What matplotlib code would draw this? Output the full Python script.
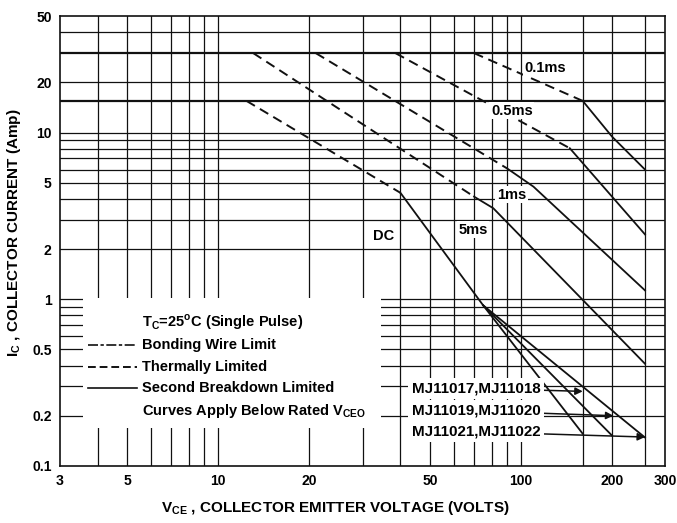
import matplotlib
matplotlib.use('Agg')
import matplotlib.pyplot as plt
from matplotlib import font_manager
from matplotlib.patches import Rectangle
from matplotlib.ticker import NullLocator

# tick labels and grid
x_ticks = [3, 5, 10, 20, 50, 100, 200, 300]
x_grid = [4, 5, 6, 7, 8, 9, 10, 20, 30, 40, 50, 60, 70, 80, 90, 100, 160, 200, 257]
y_ticks = [0.1, 0.2, 0.5, 1, 2, 5, 10, 20, 50]
y_tick_labels = ['0.1', '0.2', '0.5', '1', '2', '5', '10', '20', '50']
y_grid = [0.2, 0.3, 0.4, 0.5, 0.6, 0.7, 0.8, 0.9, 1, 2, 3, 4, 5, 6, 7, 8, 9, 10, 20, 40]
y_current_limits = [15.5, 30]  # continuous / peak collector current

# DC curve
dc_v_th = [12.4, 40]
dc_i_th = [15.5, 4.35]
dc_v_sb = [40, 75, 160]
dc_i_sb = [4.35, 0.92, 0.156]
# DC branches for the higher voltage parts
mj19_v = [75, 200]
mj19_i = [0.92, 0.152]
mj21_v = [75, 257]
mj21_i = [0.92, 0.148]

# pulse curves: thermally limited (dashed) then second breakdown (solid)
p01_v_th = [70, 160]
p01_i_th = [30, 15.5]
p01_v_sb = [160, 200, 257]
p01_i_sb = [15.5, 9.46, 6.0]

p05_v_th = [38.5, 145]
p05_i_th = [30, 8.06]
p05_v_sb = [145, 257]
p05_i_sb = [8.06, 2.45]

p1_v_th = [21, 90]
p1_i_th = [30, 6.1]
p1_v_sb = [90, 110, 257]
p1_i_sb = [6.1, 4.74, 1.13]

p5_v_th = [13.05, 70]
p5_i_th = [30, 4.13]
p5_v_sb = [70, 81, 257]
p5_i_sb = [4.13, 3.52, 0.41]

curve_labels = ['0.1ms', '0.5ms', '1ms', '5ms', 'DC']
curve_label_v = [120, 93.3, 93.1, 69.5, 35.3]
curve_label_i = [24.4, 13.5, 4.23, 2.61, 2.40]

parts = ['MJ11017,MJ11018', 'MJ11019,MJ11020', 'MJ11021,MJ11022']
part_tip_v = [160, 202, 257]
part_tip_i = [0.28, 0.20, 0.149]
part_text_i = [0.292, 0.2136, 0.160]

names = {f.name for f in font_manager.fontManager.ttflist}
NARROW = 'Liberation Sans Narrow' if 'Liberation Sans Narrow' in names else 'Liberation Sans'
WIDE = 'Liberation Sans'
nscale = 1.0 if NARROW == 'Liberation Sans Narrow' else 0.84

fig = plt.figure(figsize=(6.77, 5.23), dpi=100)
ax = fig.add_axes([0.0886, 0.1092, 0.8942, 0.8599])
ax.set_xscale('log')
ax.set_yscale('log')
ax.set_xlim(3, 300)
ax.set_ylim(0.1, 50)

grid_kw = dict(color='#111111', lw=0.9, zorder=1)
for v in x_grid:
    ax.axvline(v, **grid_kw)
for i in y_grid:
    ax.axhline(i, **grid_kw)
for i in y_current_limits:
    ax.axhline(i, color='#111111', lw=1.6, zorder=1)

# blank area behind the legend text
ax.add_patch(Rectangle((3.57, 0.169), 34.5 - 3.57, 1.012 - 0.169,
                       facecolor='white', edgecolor='none', zorder=2))

th_kw = dict(color='#111111', lw=1.4, dashes=(5, 3), zorder=3)
sb_kw = dict(color='#111111', lw=1.3, zorder=3)
for v_th, i_th, v_sb, i_sb in [(dc_v_th, dc_i_th, dc_v_sb, dc_i_sb),
                               (p01_v_th, p01_i_th, p01_v_sb, p01_i_sb),
                               (p05_v_th, p05_i_th, p05_v_sb, p05_i_sb),
                               (p1_v_th, p1_i_th, p1_v_sb, p1_i_sb),
                               (p5_v_th, p5_i_th, p5_v_sb, p5_i_sb)]:
    ax.plot(v_th, i_th, **th_kw)
    ax.plot(v_sb, i_sb, **sb_kw)
ax.plot(mj19_v, mj19_i, **sb_kw)
ax.plot(mj21_v, mj21_i, **sb_kw)

lab_font = dict(family=NARROW, fontweight='bold', fontsize=12.5 * nscale)
for s, v, i in zip(curve_labels, curve_label_v, curve_label_i):
    ax.text(v, i, s, ha='center', va='center', zorder=4,
            bbox=dict(facecolor='white', edgecolor='none', pad=1), **lab_font)

for s, tv, ti, yi in zip(parts, part_tip_v, part_tip_i, part_text_i):
    ax.annotate(s, xy=(tv, ti), xytext=(43.6, yi), ha='left', va='center', zorder=4,
                bbox=dict(facecolor='white', edgecolor='none', pad=2.5),
                arrowprops=dict(arrowstyle='-|>', color='#111111', lw=1.1,
                                mutation_scale=11, shrinkA=0, shrinkB=0),
                family=NARROW, fontweight='bold', fontsize=13 * nscale)

# legend block
leg_font = dict(family=NARROW, fontweight='bold', fontsize=12.5 * nscale,
                transform=ax.transAxes, va='center', ha='left', zorder=4)
ax.text(0.1354, 0.3207, r'T$_\mathregular{C}$=25$^\mathregular{o}$C (Single Pulse)', **leg_font)
ax.text(0.1354, 0.2688, 'Bonding Wire Limit', **leg_font)
ax.text(0.1354, 0.2199, 'Thermally Limited', **leg_font)
ax.text(0.1354, 0.1732, 'Second Breakdown Limited', **leg_font)
ax.text(0.1354, 0.1221, r'Curves Apply Below Rated V$_\mathregular{CEO}$',
        bbox=dict(facecolor='white', edgecolor='none', pad=1), **leg_font)
ax.plot([0.0463, 0.1272], [0.2688, 0.2688], transform=ax.transAxes, color='#111111',
        lw=1.2, dashes=(6, 1.5, 2, 1.5), zorder=4)
ax.plot([0.0463, 0.1272], [0.2199, 0.2199], transform=ax.transAxes, color='#111111',
        lw=1.4, dashes=(4, 2), zorder=4)
ax.plot([0.0463, 0.1272], [0.1732, 0.1732], transform=ax.transAxes, color='#111111',
        lw=1.2, zorder=4)

ax.set_xticks(x_ticks)
ax.set_xticklabels([str(t) for t in x_ticks])
ax.set_yticks(y_ticks)
ax.set_yticklabels(y_tick_labels)
ax.xaxis.set_minor_locator(NullLocator())
ax.yaxis.set_minor_locator(NullLocator())
ax.tick_params(length=0, pad=6)
for t in ax.get_xticklabels() + ax.get_yticklabels():
    t.set_family(NARROW)
    t.set_fontweight('bold')
    t.set_fontsize(12 * nscale)
for sp in ax.spines.values():
    sp.set_linewidth(1.2)
    sp.set_color('#111111')

fig.text(0.495, 0.0287, r'V$_\mathregular{CE}$ , COLLECTOR EMITTER VOLTAGE (VOLTS)',
         ha='center', va='center', family=WIDE, fontweight='bold', fontsize=11)
fig.text(0.021, 0.5545, r'I$_\mathregular{C}$ , COLLECTOR CURRENT (Amp)', rotation=90,
         ha='center', va='center', family=WIDE, fontweight='bold', fontsize=11)

fig.savefig('out.png', dpi=100)
